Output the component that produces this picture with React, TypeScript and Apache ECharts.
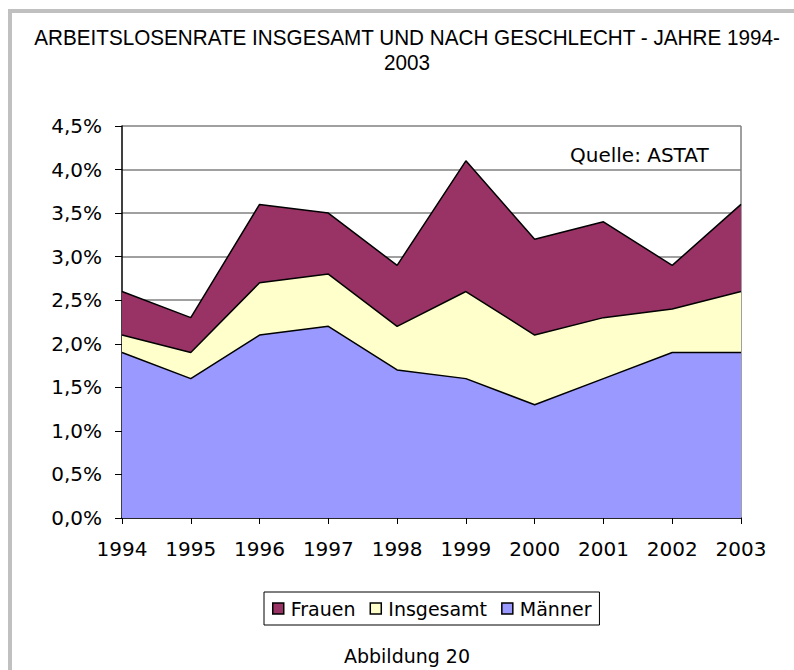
import React, { useEffect, useRef } from "react";
import * as echarts from "echarts";

const years = ["1994", "1995", "1996", "1997", "1998", "1999", "2000", "2001", "2002", "2003"];
const frauen = [2.6, 2.3, 3.6, 3.5, 2.9, 4.1, 3.2, 3.4, 2.9, 3.6];
const insgesamt = [2.1, 1.9, 2.7, 2.8, 2.2, 2.6, 2.1, 2.3, 2.4, 2.6];
const maenner = [1.9, 1.6, 2.1, 2.2, 1.7, 1.6, 1.3, 1.6, 1.9, 1.9];

const titleLine1 = "ARBEITSLOSENRATE INSGESAMT UND NACH GESCHLECHT - JAHRE 1994-";
const titleLine2 = "2003";

const FONT = "'DejaVu Sans', Verdana, sans-serif";
const TFONT = "'Liberation Sans', Arial, sans-serif";

export default function App() {
  const ref = useRef<HTMLDivElement>(null);
  useEffect(() => {
    if (!ref.current) return;
    const chart = echarts.init(ref.current, undefined, { renderer: "svg" });
    const mk = (name: string, data: number[], color: string) => ({
      name,
      type: "line",
      data,
      color,
      symbol: "none",
      itemStyle: { color, borderColor: "#000", borderWidth: 1 },
      lineStyle: { color: "#000", width: 1.5 },
      areaStyle: { color, opacity: 1 },
    });
    chart.setOption({
      animation: false,
      backgroundColor: "#fff",
      textStyle: { fontFamily: FONT, color: "#000" },
      graphic: [
        { type: "rect", shape: { x: 8, y: 9, width: 786, height: 4 }, style: { fill: "#c0c0c0" } },
        { type: "rect", shape: { x: 8, y: 9, width: 4, height: 661 }, style: { fill: "#c0c0c0" } },
        { type: "line", shape: { x1: 741, y1: 126, x2: 741, y2: 518 }, style: { stroke: "#808080", lineWidth: 1.5 } },
        {
          type: "text",
          x: 407,
          y: 38,
          scaleX: 0.94,
          style: {
            text: titleLine1,
            font: `22px ${TFONT}`,
            fill: "#000",
            textAlign: "center",
            textVerticalAlign: "middle",
          },
        },
        {
          type: "text",
          x: 407,
          y: 63,
          scaleX: 0.94,
          style: {
            text: titleLine2,
            font: `22px ${TFONT}`,
            fill: "#000",
            textAlign: "center",
            textVerticalAlign: "middle",
          },
        },
        {
          type: "text",
          x: 570,
          y: 155,
          style: {
            text: "Quelle: ASTAT",
            font: `20px ${FONT}`,
            fill: "#000",
            textVerticalAlign: "middle",
          },
        },
        {
          type: "text",
          x: 407,
          y: 656,
          style: {
            text: "Abbildung 20",
            font: `19px ${FONT}`,
            fill: "#000",
            textAlign: "center",
            textVerticalAlign: "middle",
          },
        },
      ],
      legend: {
        left: 264,
        top: 592,
        orient: "horizontal",
        data: ["Frauen", "Insgesamt", "Männer"],
        icon: "rect",
        itemWidth: 11,
        itemHeight: 11,
        itemGap: 14,
        padding: [7, 8, 7, 8],
        borderColor: "#000",
        borderWidth: 1,
        itemStyle: { borderColor: "#000", borderWidth: 1.5 },
        textStyle: { fontFamily: FONT, fontSize: 19, color: "#000", padding: [0, 0, 0, 2] },
      },
      grid: { left: 122, right: 53, top: 126, bottom: 152 },
      xAxis: {
        type: "category",
        data: years,
        boundaryGap: false,
        axisLine: { lineStyle: { color: "#000", width: 1.5 } },
        axisTick: { show: true, length: 6, lineStyle: { color: "#000" } },
        axisLabel: { fontFamily: FONT, fontSize: 20, color: "#000", margin: 21 },
        splitLine: { show: false },
      },
      yAxis: {
        type: "value",
        min: 0,
        max: 4.5,
        interval: 0.5,
        axisLine: { show: true, lineStyle: { color: "#000", width: 1.5 } },
        axisTick: { show: true, length: 7, lineStyle: { color: "#000" } },
        axisLabel: {
          fontFamily: FONT,
          fontSize: 20,
          color: "#000",
          margin: 20,
          formatter: (v: number) => v.toFixed(1).replace(".", ",") + "%",
        },
        splitLine: { show: true, lineStyle: { color: "#808080", width: 1.5 } },
      },
      series: [
        mk("Frauen", frauen, "#993366"),
        mk("Insgesamt", insgesamt, "#FFFFCC"),
        mk("Männer", maenner, "#9999FF"),
      ],
    });
    return () => chart.dispose();
  }, []);
  return (
    <div
      ref={ref}
      style={{ position: "fixed", left: 0, top: 0, width: 794, height: 670 }}
    />
  );
}
